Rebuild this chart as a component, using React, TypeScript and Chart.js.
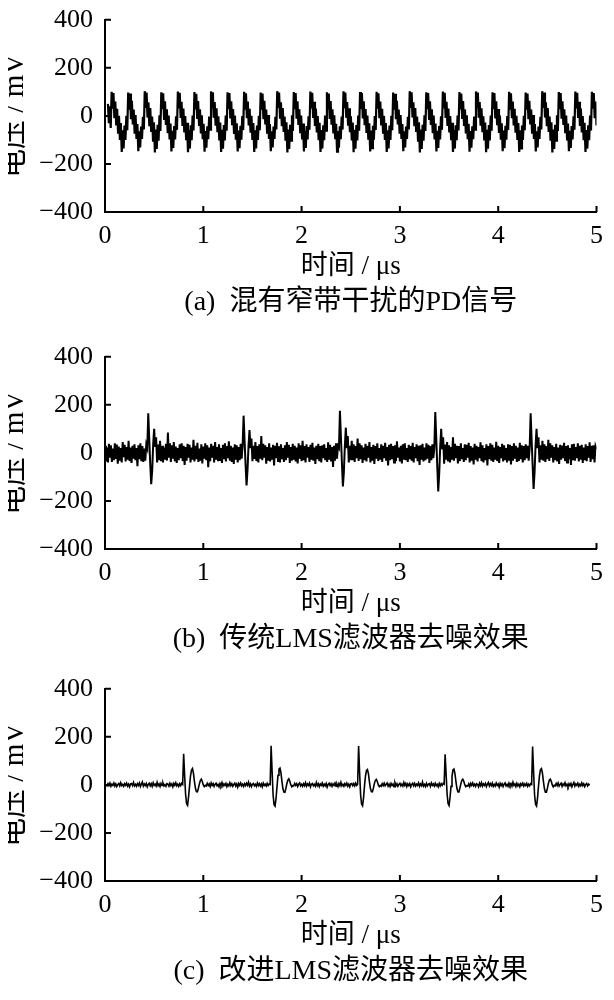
import React, { useEffect, useRef } from 'react';
import { Chart, registerables } from 'chart.js';

Chart.register(...registerables);

const FONT = "'Liberation Serif', 'Times New Roman', 'Noto Sans CJK SC', serif";

// ---- axis definitions ----
const xMin = 0;
const xMax = 5;
const xStep = 1;
const yMin = -400;
const yMax = 400;
const yStep = 200;
const xTitle = '时间 / μs';
const yTitle = '电压 / mV';

// ---- captions ----
const captionA = '(a)  混有窄带干扰的PD信号';
const captionB = '(b)  传统LMS滤波器去噪效果';
const captionC = '(c)  改进LMS滤波器去噪效果';

// ---- sampling (μs) ----
const startA = 0.03;
const stepA = 0.00936;
const startB = 0;
const stepB = 0.01;
const startC = 0.01;
const stepC = 0.01;

// ---- (a) PD signal with narrowband interference (mV) ----
const voltageA = [
  50, -30, 40, -50,
  100, 30, 95, -10, 60, -40, 30, -70, 0, -100, -30, -150, -60, -135, -40, -100, 0, -60,
  97, 26, 93, -14, 63, -36, 26, -74, 4, -96, -34, -147, -64, -131, -44, -96, -4, -56,
  103, 33, 97, -7, 57, -43, 33, -67, -3, -103, -27, -152, -57, -138, -37, -103, 3, -63,
  98, 28, 94, -12, 61, -38, 28, -72, 2, -98, -32, -148, -62, -133, -42, -98, -2, -58,
  101, 31, 96, -9, 59, -42, 31, -69, -1, -101, -29, -151, -59, -136, -39, -101, 1, -61,
  99, 27, 92, -13, 62, -37, 27, -73, 3, -97, -33, -149, -63, -132, -43, -97, -3, -57,
  102, 32, 98, -8, 58, -41, 32, -68, -2, -102, -28, -150, -58, -137, -38, -102, 2, -62,
  98, 29, 95, -11, 61, -39, 29, -71, 1, -99, -31, -148, -61, -134, -41, -99, -1, -59,
  100, 30, 94, -10, 60, -40, 30, -70, 0, -100, -30, -150, -60, -135, -40, -100, 0, -60,
  97, 26, 93, -14, 63, -36, 26, -74, 4, -96, -34, -147, -64, -131, -44, -96, -4, -56,
  103, 33, 97, -7, 57, -43, 33, -67, -3, -103, -27, -152, -57, -138, -37, -103, 3, -63,
  99, 28, 95, -12, 61, -38, 28, -72, 2, -98, -32, -148, -62, -133, -42, -98, -2, -58,
  101, 31, 96, -9, 59, -42, 31, -69, -1, -101, -29, -150, -59, -136, -39, -101, 1, -61,
  98, 27, 93, -13, 62, -37, 27, -73, 3, -97, -33, -149, -63, -132, -43, -97, -3, -57,
  102, 32, 97, -8, 58, -41, 32, -68, -2, -102, -28, -151, -58, -137, -38, -102, 2, -62,
  99, 29, 95, -11, 61, -39, 29, -71, 1, -99, -31, -148, -61, -134, -41, -99, -1, -59,
  100, 30, 94, -10, 60, -40, 30, -70, 0, -100, -30, -150, -60, -135, -40, -100, 0, -60,
  97, 26, 92, -14, 63, -36, 26, -74, 4, -96, -34, -147, -64, -131, -44, -96, -4, -56,
  103, 33, 98, -7, 57, -43, 33, -67, -3, -103, -27, -152, -57, -138, -37, -103, 3, -63,
  98, 28, 95, -12, 61, -38, 28, -72, 2, -98, -32, -148, -62, -133, -42, -98, -2, -58,
  101, 31, 96, -9, 59, -42, 31, -69, -1, -101, -29, -150, -59, -136, -39, -101, 1, -61,
  99, 27, 93, -13, 62, -37, 27, -73, 3, -97, -33, -149, -63, -132, -43, -97, -3, -57,
  102, 32, 97, -8, 58, -41, 32, -68, -2, -102, -28, -151, -58, -137, -38, -102, 2, -62,
  98, 29, 95, -11, 61, -39, 29, -71, 1, -99, -31, -147, -61, -134, -41, -99, -1, -59,
  100, 30, 94, -10, 60, -40, 30, -70, 0, -100, -30, -150, -60, -135, -40, -100, 0, -60,
  97, 26, 93, -14, 63, -36, 26, -74, 4, -96, -34, -148, -64, -131, -44, -96, -4, -56,
  103, 33, 97, -7, 57, -43, 33, -67, -3, -103, -27, -152, -57, -138, -37, -103, 3, -63,
  99, 28, 95, -12, 61, -38, 28, -72, 2, -98, -32, -147, -62, -133, -42, -98, -2, -58,
  101, 31, 96, -9, 59, -42, 31, -69, -1, -101, -29, -150, -59, -136, -39, -101, 1, -61,
  100, 30, 95, -10, 60, -40,
];

// ---- (b) traditional LMS output (mV) ----
const voltageB = [
  30, -35, 22, -40, 38, -20, 32, -38, 18, -30,
  40, -25, 35, -45, 26, -32, 20, -40, 45, -18,
  34, -36, 24, -28, 50, -34, 22, -42, 30, -24,
  36, -30, 20, -55, 32, -26, 40, -35, 28, -38,
  18, -32, 35, 20,
  165, 60, -45, -130, -75, 35, 100, 25, 65, -40, 35, -30, 50,
  -35, 30, -40, 22, -28, 38, -32, 85, -20, 40,
  -38, 32, -24, 45, -35, 26, -42, 20, -30, 36,
  -22, 40, -34, 30, -50, 24, -32, 38, -20, 34,
  -40, 22, -28, 55, -36, 30, -26, 42, -38, 18,
  -32, 36, -44, 26, -24, 40, -30, 32, -60, 22,
  -35, 38, -20, 30, -40, 45, -28, 24, -34, 36,
  -30, 20, -42, 34, -26, 40, -36, 28, -22, 48,
  -32, 30, -38, 22, -46, 36, -28, 32, -40, 24,
  -30, 38, -24, 30,
  155, 50, -50, -135, -70, 30, 95, 20, 60, -35, 30, -25, 45,
  -34, 28, -40, 36, -24, 70, -30, 38, -20, 32,
  -45, 24, -32, 40, -36, 22, -28, 34, -52, 30,
  -22, 42, -34, 28, -40, 36, -26, 20, -38, 32,
  -30, 45, -20, 34, -42, 24, -32, 38, -28, 30,
  -36, 22, -44, 40, -24, 32, -34, 50, -30, 28,
  -40, 36, -20, 24, -38, 34, -28, 42, -32, 22,
  -46, 30, -26, 38, -34, 28, -40, 32, -22, 36,
  -30, 20, -38, 44, -28, 34, -36, 24, -58, 30,
  -32, 40, -24, 28, 20,
  175, 65, -40, -140, -80, 30, 105, 20, 70, -40, 30, -30, 50,
  -30, 36, -38, 28, -22, 60, -34, 40, -26, 32,
  -42, 22, -30, 38, -36, 30, -20, 45, -40, 24,
  -32, 34, -46, 28, -24, 40, -34, 20, -28, 36,
  -38, 30, -22, 42, -32, 24, -52, 34, -30, 38,
  -26, 28, -40, 32, -34, 48, -20, 22, -36, 30,
  -44, 36, -28, 40, -30, 20, -38, 34, -26, 28,
  -32, 42, -40, 24, -22, 36, -34, 30, -50, 32,
  -28, 38, -36, 22, -30, 40, -24, 34, -42, 28,
  -30, 36, -22, 20,
  170, 60, -55, -160, -85, 25, 100, 15, 65, -45, 35, -28, 45,
  -36, 32, -40, 24, -28, 65, -32, 38, -22, 30,
  -44, 28, -34, 40, -26, 20, -38, 36, -30, 34,
  -20, 42, -40, 28, -32, 22, -48, 38, -28, 30,
  -36, 24, -22, 44, -34, 32, -40, 20, -30, 36,
  -52, 28, -26, 40, -32, 34, -38, 22, -28, 46,
  -34, 30, -42, 24, -22, 38, -36, 32, -30, 20,
  -40, 36, -28, 34, -48, 28, -32, 40, -24, 30,
  -38, 22, -34, 42, -26, 32, -40, 28, -30, 36,
  -22, 30, -32, 20,
  165, 55, -50, -150, -80, 30, 100, 20, 65, -40, 32, -28, 50,
  -32, 36, -38, 28, -26, 55, -34, 40, -20, 32,
  -40, 24, -30, 38, -36, 22, -46, 34, -28, 30,
  -22, 42, -34, 28, -40, 32, -26, 20, -50, 36,
  -30, 38, -32, 24, -22, 40, -36, 30, -28, 34,
  -42, 22, -30, 36, -34, 28, -20, 44, -38, 30,
  -26, 32, -40, 28, 15,
];

// ---- (c) improved LMS output (mV) ----
const voltageC = [
  2, -4, 5, -3, 7, -6, 3, -2, 8, -5,
  4, -7, 1, 6, -4, 9, -3, 2, -6, 5,
  -2, 7, -5, 3, -8, 4, 6, -3, 10, -4,
  2, -6, 5, -2, 8, -7, 3, 12, -5, 4,
  -3, 6, -8, 2, 7, -4, 5, -6, 9, -2,
  3, -5, 11, -3, 4, -7, 6, -2, 8, -4,
  1, -6, 5, 3, -5, 7, -3, 4, -8, 6,
  -2, 9, -4, 3, -6, 5, -3, 7, 2,
  130, 40, -40, -78, -85, -50, -5, 38, 62, 68, 48, 14, -14, -28, -29, -14, 4, 18, 24, 14, 0, -7, -2,
  -5, 6, -3, 4, -7, 8, -2, 5, -6, 3,
  7, -4, 2, -8, 6, -3, 10, -5, 4, -2,
  6, -7, 3, -4, 9, -3, 5, -6, 2, 7,
  -5, 4, -9, 6, -2, 8, -4, 3, -6, 5,
  -3, 7, -2, 11, -5, 4, -7, 3, 6, -4,
  2, -6, 8, -3, 5, -5, 4, -8, 7, -2,
  3, -5, 6, -3, 4, 2,
  163, 55, -42, -82, -88, -56, -6, 40, 66, 70, 50, 15, -16, -30, -31, -15, 5, 20, 25, 15, 1, -8, -3,
  -4, 6, -2, 5, -7, 3, 8, -4, 2, -6,
  5, -3, 9, -5, 4, -2, 7, -8, 3, 6,
  -4, 2, -6, 10, -3, 5, -7, 4, -2, 8,
  -5, 3, -4, 6, -9, 2, 7, -3, 5, -6,
  4, -2, 8, -5, 3, -7, 6, -3, 11, -4,
  2, -6, 5, -2, 7, -5, 3, -8, 4, 6,
  -3, 5, -4, 7, -2, 3,
  162, 52, -40, -80, -87, -54, -4, 38, 60, 64, 46, 13, -15, -28, -29, -14, 5, 19, 23, 14, 0, -7, -2,
  -6, 5, -3, 7, -4, 2, 8, -5, 3, -7,
  6, -2, 4, -8, 9, -3, 5, -6, 2, 7,
  -4, 3, -5, 10, -2, 6, -7, 4, -3, 5,
  -8, 2, 7, -4, 6, -5, 3, -2, 8, -6,
  4, -3, 12, -5, 2, -7, 6, -4, 3, 5,
  -6, 8, -2, 4, -5, 7, -3, 2, -8, 6,
  -4, 5, -2, 6, 3,
  127, 45, -38, -78, -86, -52, -6, 36, 62, 66, 47, 14, -14, -29, -30, -14, 4, 19, 24, 15, 1, -7, -3,
  -5, 4, -7, 6, -2, 8, -4, 3, -6, 5,
  2, -8, 7, -3, 9, -5, 4, -2, 6, -7,
  3, 10, -4, 5, -3, 7, -6, 2, -5, 8,
  -2, 4, -9, 6, -3, 5, -7, 3, 8, -4,
  2, -6, 7, -3, 5, -5, 11, -2, 4, -7,
  6, -4, 3, -8, 5, -2, 7, -5, 4, -3,
  6, -6, 3, -4, 5, 2,
  160, 54, -41, -81, -88, -55, -5, 39, 64, 68, 49, 15, -15, -30, -30, -15, 5, 20, 24, 15, 0, -8, -2,
  -4, 6, -3, 8, -5, 2, 7, -6, 4, -2,
  9, -4, 3, -7, 5, -3, 6, -8, 2, 10,
  -5, 4, -2, 7, -6, 3, -4, 8, -3, 5,
  -7, 2, 6, -4, 3, -2,
];

const inwardTicks = {
  id: 'inwardTicks',
  afterDraw(chart: any) {
    const { ctx, chartArea, scales } = chart;
    const len = 6;
    ctx.save();
    ctx.strokeStyle = '#000';
    ctx.lineWidth = 2;
    ctx.beginPath();
    scales.x.ticks.forEach((t: any) => {
      const px = scales.x.getPixelForValue(t.value);
      ctx.moveTo(px, chartArea.bottom);
      ctx.lineTo(px, chartArea.bottom - len);
    });
    scales.y.ticks.forEach((t: any) => {
      const py = scales.y.getPixelForValue(t.value);
      ctx.moveTo(chartArea.left, py);
      ctx.lineTo(chartArea.left + len, py);
    });
    ctx.stroke();
    ctx.restore();
  },
};

type PanelProps = {
  values: number[];
  start: number;
  step: number;
  caption: string;
  height: number;
  lineWidth: number;
  captionPadBottom: number;
};

function Panel({ values, start, step, caption, height, lineWidth, captionPadBottom }: PanelProps) {
  const ref = useRef<HTMLCanvasElement>(null);
  useEffect(() => {
    if (!ref.current) return;
    const points = values.map((v, i) => ({ x: start + i * step, y: v }));
    const chart = new Chart(ref.current, {
      type: 'line',
      data: {
        datasets: [
          {
            data: points,
            borderColor: '#000',
            borderWidth: lineWidth,
            pointRadius: 0,
            tension: 0,
            fill: false,
          },
        ],
      },
      options: {
        animation: false,
        responsive: false,
        events: [],
        layout: { padding: { top: 17, right: 16, bottom: 0, left: 0 } },
        plugins: {
          legend: { display: false },
          tooltip: { enabled: false },
          title: {
            display: true,
            position: 'bottom',
            fullSize: false,
            text: caption,
            color: '#000',
            font: { family: FONT, size: 28, weight: 'normal', lineHeight: 1 },
            padding: { top: 8.5, bottom: captionPadBottom },
          },
        },
        scales: {
          x: {
            type: 'linear',
            min: xMin,
            max: xMax,
            ticks: {
              stepSize: xStep,
              color: '#000',
              font: { family: FONT, size: 26, lineHeight: 1 },
              padding: 11,
              maxRotation: 0,
              autoSkip: false,
            },
            grid: { display: false, drawTicks: false, tickLength: 0 },
            border: { display: true, color: '#000', width: 2 },
            title: {
              display: true,
              text: xTitle,
              color: '#000',
              font: { family: FONT, size: 27, lineHeight: 1 },
              padding: { top: -6.5, bottom: 0 },
            },
          },
          y: {
            type: 'linear',
            min: yMin,
            max: yMax,
            ticks: {
              stepSize: yStep,
              color: '#000',
              font: { family: FONT, size: 26, lineHeight: 0.6 },
              padding: 12,
              callback: (v: any) => (Number(v) < 0 ? '\u2212' + Math.abs(Number(v)) : String(v)),
            },
            grid: { display: false, drawTicks: false, tickLength: 0 },
            border: { display: true, color: '#000', width: 2 },
            title: {
              display: true,
              text: yTitle,
              color: '#000',
              font: { family: FONT, size: 29, lineHeight: 1 },
              padding: { top: 0.5, bottom: 0 },
            },
            afterFit: (s: any) => {
              s.width = 105;
            },
          },
        },
      } as any,
      plugins: [inwardTicks],
    });
    return () => chart.destroy();
  }, []);
  return (
    <canvas
      ref={ref}
      width={614}
      height={height}
      style={{ display: 'block', width: 614, height }}
    />
  );
}

export default function App() {
  return (
    <div style={{ margin: -8, width: 614, background: '#fff' }}>
      <Panel values={voltageA} start={startA} step={stepA} caption={captionA} height={337} lineWidth={2.2} captionPadBottom={20} />
      <Panel values={voltageB} start={startB} step={stepB} caption={captionB} height={332} lineWidth={2} captionPadBottom={15} />
      <Panel values={voltageC} start={startC} step={stepC} caption={captionC} height={331} lineWidth={1.6} captionPadBottom={14} />
    </div>
  );
}
